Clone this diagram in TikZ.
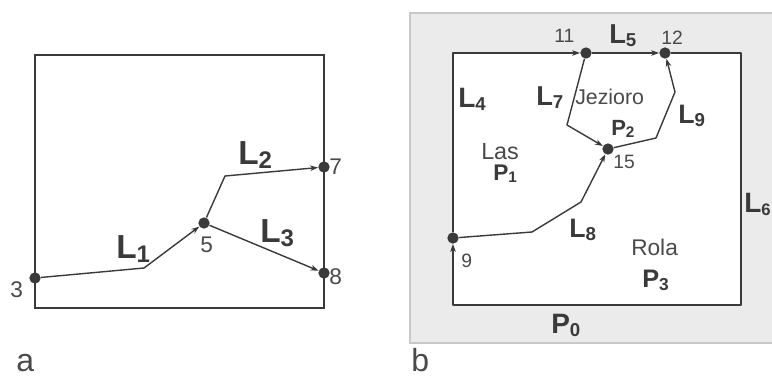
\documentclass[tikz,border=0pt]{standalone}
\usepackage{fontspec}
\setmainfont{Liberation Sans}
\usetikzlibrary{arrows.meta}
\definecolor{ink}{HTML}{3A3A3A}
\definecolor{txt}{HTML}{4A4A4A}
\definecolor{bgfill}{HTML}{EBEBEB}
\definecolor{bgline}{HTML}{C8C8C8}
\newcommand{\Lb}[4]{{\fontsize{#1}{#1}\selectfont\bfseries #3\raisebox{-0.13em}{\fontsize{#2}{#2}\selectfont #4}}}
\newcommand{\Tx}[2]{{\fontsize{#1}{#1}\selectfont #2}}
\tikzset{
  dot/.style={circle,fill=ink,draw=none,inner sep=0pt,minimum size=8.5pt},
  lab/.style={anchor=base west,inner sep=0pt,text=txt},
  blab/.style={anchor=base west,inner sep=0pt,text=ink},
  frame/.style={draw=ink,line width=1.1pt},
  edge/.style={draw=ink,line width=1.05pt,line join=round},
  arr/.style={edge,-{Stealth[length=6pt,width=4.2pt]}}
}
\begin{document}
\begin{tikzpicture}[x=0.75pt,y=-0.75pt]
\useasboundingbox (0,0) rectangle (772,376);
% ---------- panel a ----------
\draw[frame] (35,55) rectangle (324,308);
\node[dot] (n3) at (35,278) {};
\node[dot] (n5) at (204,223) {};
\node[dot] (n7) at (324,167) {};
\node[dot] (n8) at (324,273) {};
\coordinate (c1) at (144,268);
\coordinate (c2) at (225,176);
\draw[arr] (n3) -- (c1) -- (n5);
\draw[arr] (n5) -- (c2) -- (n7);
\draw[arr] (n5) -- (n8);
\node[blab] (l1) at (116,258) {\Lb{25}{18}{L}{1}};
\node[blab] (l2) at (238,164) {\Lb{25}{18}{L}{2}};
\node[blab] (l3) at (260,242) {\Lb{25}{18}{L}{3}};
\node[lab] (t3) at (10,297) {\Tx{17}{3}};
\node[lab] (t5) at (200,252) {\Tx{17}{5}};
\node[lab] (t7) at (329,174) {\Tx{17}{7}};
\node[lab] (t8) at (329,284) {\Tx{17}{8}};
\node[lab] (ta) at (16,371) {\Tx{24}{a}};
% ---------- panel b ----------
\fill[bgfill] (410,13) rectangle (772,343);
\draw[bgline,line width=0.8pt] (772,13) -- (410,13) -- (410,343) -- (772,343);
\fill[white] (453,53) rectangle (741,305);
\node[dot] (n9) at (453,238) {};
\node[dot] (n11) at (586,53) {};
\node[dot] (n12) at (665,53) {};
\node[dot] (n15) at (608,149) {};
\coordinate (tl) at (453,53);
\coordinate (tr) at (741,53);
\coordinate (br) at (741,305);
\coordinate (bl) at (453,305);
\coordinate (k7) at (567,125);
\coordinate (k8a) at (532,232);
\coordinate (k8b) at (581,202);
\coordinate (k9a) at (656,138);
\coordinate (k9b) at (675,92);
\draw[arr,line width=1.1pt] (n9) -- (tl) -- (n11);
\draw[arr,line width=1.1pt] (n11) -- (n12);
\draw[arr,line width=1.1pt] (n12) -- (tr) -- (br) -- (bl) -- (n9);
\draw[arr] (n11) -- (k7) -- (n15);
\draw[arr] (n9) -- (k8a) -- (k8b) -- (n15);
\draw[arr] (n15) -- (k9a) -- (k9b) -- (n12);
\node[lab] (t11) at (554,42) {\Tx{14.5}{11}};
\node[lab] (t12) at (661,44) {\Tx{14.5}{12}};
\node[lab] (t15) at (613,168) {\Tx{14.5}{15}};
\node[lab] (t9) at (461,267) {\Tx{14.5}{9}};
\node[blab] (l5) at (609,43) {\Lb{20.5}{14}{L}{5}};
\node[blab] (l4) at (458,107) {\Lb{21}{14}{L}{4}};
\node[blab] (l7) at (536,105) {\Lb{20.5}{14}{L}{7}};
\node[blab] (l9) at (678,123) {\Lb{20}{14}{L}{9}};
\node[blab] (l8) at (569,237) {\Lb{20}{14}{L}{8}};
\node[blab] (l6) at (744,212) {\Lb{21}{12.5}{L}{6}};
\node[lab] (jz) at (575,104) {\Tx{16}{Jezioro}};
\node[blab] (p2) at (611,135) {\Lb{16.5}{11.5}{P}{2}};
\node[lab] (las) at (481,159) {\Tx{17.5}{Las}};
\node[blab] (p1) at (493,180) {\Lb{17}{11.5}{P}{1}};
\node[lab] (rola) at (631,255) {\Tx{17}{Rola}};
\node[blab] (p3) at (642,287) {\Lb{19}{13}{P}{3}};
\node[blab] (p0) at (551,333) {\Lb{21}{14}{P}{0}};
\node[lab] (tb) at (411,371) {\Tx{24}{b}};
\end{tikzpicture}
\end{document}
